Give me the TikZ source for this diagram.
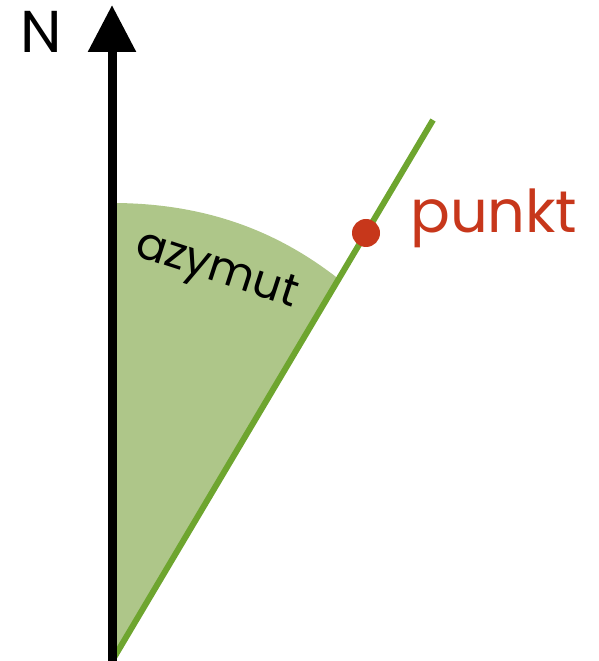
\documentclass[tikz,border=0pt]{standalone}
\usepackage{fontspec}
\setmainfont{Poppins}
\usetikzlibrary{arrows.meta}
\definecolor{lineGreen}{HTML}{6EA52F}
\definecolor{fillGreen}{HTML}{AEC689}
\definecolor{dotRed}{HTML}{C7371B}
\tikzset{
  northaxis/.style={line width=9pt, -{Triangle[width=46pt,length=47pt]}},
  bearing/.style={line width=6pt, lineGreen},
  sectorfill/.style={fill=fillGreen},
  labeltext/.style={inner sep=0pt, font=\fontsize{59}{59}\selectfont}
}
\begin{document}
\begin{tikzpicture}[x=1pt,y=1pt]
\useasboundingbox (0,0) rectangle (598,661);
\coordinate (O) at (112,0);
\coordinate (Ntip) at (112,656);
\coordinate (B) at (433,541);
\coordinate (arcTop) at (112,458);
\coordinate (arcEnd) at (338.7,382);
\fill[sectorfill] (O) -- (arcTop) .. controls (220,458) and (290,420) .. (arcEnd) -- cycle;
\draw[bearing] (O) -- (B);
\draw[northaxis] (O) -- (Ntip);
\node[labeltext, anchor=base] (Nlabel) at (41,608) {N};
\node[circle, fill=dotRed, inner sep=0pt, minimum size=28pt] (dot) at (366,428) {};
\node[labeltext, text=dotRed, anchor=base west] (punkt) at (410,428) {punkt};
\node[inner sep=0pt, font=\fontsize{45}{45}\selectfont, rotate=-18] (azymut) at (216,389) {azymut};
\end{tikzpicture}
\end{document}
